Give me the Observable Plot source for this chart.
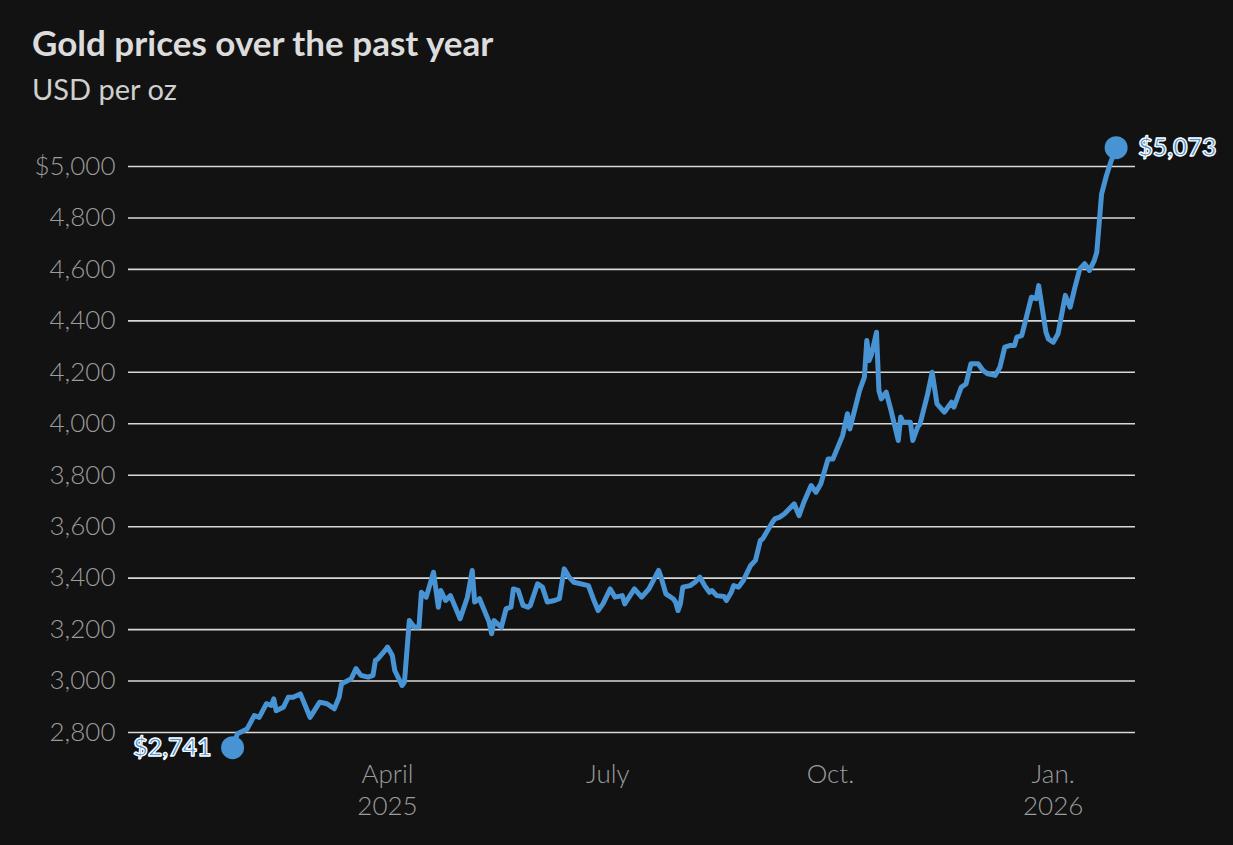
<!DOCTYPE html>
<html>
<head>
<meta charset="utf-8">
<script src="https://cdn.jsdelivr.net/npm/d3@7"></script>
<script src="https://cdn.jsdelivr.net/npm/@observablehq/plot@0.6"></script>
<style>
  html, body { margin: 0; padding: 0; background: #121212; }
  #wrap { position: relative; width: 1233px; height: 845px; background: #121212; overflow: hidden; }
  #head { position: relative; height: 120px; }
  #title { position: absolute; left: 32px; top: 20px; margin: 0; font-family: Lato, "Noto Sans", sans-serif; font-weight: 700; font-size: 35px; line-height: 44px; color: #dcdcdc; }
  #subtitle { position: absolute; left: 32px; top: 70px; margin: 0; font-family: Lato, "Noto Sans", sans-serif; font-weight: 400; font-size: 29px; line-height: 38px; color: #cfcfcf; }
  #chart svg { display: block; }
</style>
</head>
<body>
<div id="wrap">
  <div id="head">
    <div id="title">Gold prices over the past year</div>
    <div id="subtitle">USD per oz</div>
  </div>
  <div id="chart"></div>
</div>
<script>
const dates = [
  "2025-01-27","2025-01-29","2025-02-02","2025-02-05","2025-02-07","2025-02-10","2025-02-12","2025-02-13","2025-02-14","2025-02-17",
  "2025-02-19","2025-02-21","2025-02-24","2025-02-26","2025-02-28","2025-03-04","2025-03-07","2025-03-10","2025-03-12","2025-03-13",
  "2025-03-17","2025-03-19","2025-03-21","2025-03-24","2025-03-26","2025-03-27","2025-03-28","2025-03-31","2025-04-01","2025-04-03",
  "2025-04-04","2025-04-07","2025-04-08","2025-04-10","2025-04-12","2025-04-14","2025-04-15","2025-04-17","2025-04-20","2025-04-22",
  "2025-04-23","2025-04-25","2025-04-27","2025-05-01","2025-05-04","2025-05-06","2025-05-07","2025-05-09","2025-05-13","2025-05-14",
  "2025-05-15","2025-05-18","2025-05-20","2025-05-22","2025-05-23","2025-05-25","2025-05-27","2025-05-29","2025-05-30","2025-06-02",
  "2025-06-04","2025-06-06","2025-06-09","2025-06-11","2025-06-13","2025-06-15","2025-06-17","2025-06-23","2025-06-25","2025-06-27",
  "2025-06-29","2025-07-02","2025-07-04","2025-07-07","2025-07-08","2025-07-12","2025-07-15","2025-07-18","2025-07-22","2025-07-23",
  "2025-07-25","2025-07-28","2025-07-29","2025-07-30","2025-07-31","2025-08-01","2025-08-04","2025-08-06","2025-08-08","2025-08-10",
  "2025-08-12","2025-08-13","2025-08-15","2025-08-18","2025-08-19","2025-08-21","2025-08-22","2025-08-24","2025-08-26","2025-08-29",
  "2025-08-31","2025-09-02","2025-09-03","2025-09-05","2025-09-07","2025-09-08","2025-09-10","2025-09-12","2025-09-16","2025-09-18",
  "2025-09-20","2025-09-23","2025-09-25","2025-09-27","2025-09-30","2025-10-02","2025-10-06","2025-10-08","2025-10-09","2025-10-13",
  "2025-10-15","2025-10-16","2025-10-17","2025-10-18","2025-10-20","2025-10-21","2025-10-22","2025-10-24","2025-10-26","2025-10-29",
  "2025-10-30","2025-10-31","2025-11-03","2025-11-04","2025-11-06","2025-11-07","2025-11-10","2025-11-12","2025-11-14","2025-11-17",
  "2025-11-20","2025-11-21","2025-11-24","2025-11-26","2025-11-28","2025-12-01","2025-12-03","2025-12-05","2025-12-08","2025-12-10",
  "2025-12-12","2025-12-14","2025-12-16","2025-12-17","2025-12-19","2025-12-23","2025-12-25","2025-12-26","2025-12-29","2025-12-30",
  "2026-01-01","2026-01-03","2026-01-06","2026-01-08","2026-01-10","2026-01-12","2026-01-14","2026-01-16","2026-01-18","2026-01-19",
  "2026-01-21","2026-01-23","2026-01-25","2026-01-27"
];
const prices = [
  2741,2795,2814,2866,2859,2912,2905,2931,2885,2898,
  2937,2937,2950,2905,2859,2918,2912,2892,2937,2989,
  3009,3048,3022,3015,3022,3080,3086,3119,3132,3099,
  3041,2983,2996,3235,3210,3210,3345,3326,3423,3287,
  3352,3313,3332,3242,3326,3430,3307,3320,3229,3184,
  3235,3209,3281,3287,3358,3352,3294,3287,3294,3378,
  3365,3307,3313,3320,3436,3404,3384,3371,3320,3274,
  3300,3358,3326,3332,3300,3358,3326,3358,3430,3404,
  3339,3320,3307,3274,3301,3365,3371,3384,3404,3371,
  3345,3352,3332,3329,3313,3345,3371,3365,3391,3449,
  3469,3546,3553,3585,3617,3630,3637,3650,3689,3643,
  3695,3760,3734,3767,3863,3863,3954,4039,3980,4129,
  4181,4324,4246,4272,4356,4129,4097,4123,4052,3935,
  4026,4006,4006,3935,3987,4000,4110,4200,4077,4045,
  4084,4065,4142,4155,4233,4233,4207,4194,4188,4220,
  4298,4304,4304,4337,4343,4492,4486,4537,4356,4330,
  4317,4350,4499,4453,4531,4602,4622,4596,4635,4667,
  4894,4965,5023,5073
];
const yTicks = [2800,3000,3200,3400,3600,3800,4000,4200,4400,4600,4800,5000];
const xTickDates = ["2025-04-01","2025-07-01","2025-10-01","2026-01-01"];
const xTickLabels = ["April\n2025","July","Oct.","Jan.\n2026"];
const xDomain = ["2024-12-15","2026-02-04"];

const data = dates.map((d, i) => ({date: new Date(d + "T00:00:00Z"), price: prices[i]}));
const first = [data[0]];
const last = [data[data.length - 1]];
const blue = "#4893d3";
const tickDates = xTickDates.map(d => new Date(d + "T00:00:00Z"));
const labelFor = new Map(tickDates.map((d, i) => [+d, xTickLabels[i]]));
const fmt = d3.format(",");
const labelOpts = {
  x: "date", y: "price", text: d => "$" + fmt(d.price),
  fill: blue, stroke: "white", strokeWidth: 1.3, paintOrder: "normal",
  fontSize: 25, fontWeight: 700
};

const chart = Plot.plot({
  width: 1233,
  height: 725,
  marginLeft: 128,
  marginRight: 98,
  marginTop: 46,
  marginBottom: 113,
  style: {background: "transparent", fontFamily: "Lato, 'Noto Sans', sans-serif", overflow: "visible"},
  x: {type: "utc", domain: xDomain.map(d => new Date(d + "T00:00:00Z"))},
  y: {domain: [2800, 5000]},
  marks: [
    Plot.ruleY(yTicks, {stroke: "#d8d8d8", strokeWidth: 1.6}),
    Plot.axisY({
      ticks: yTicks, tickSize: 0, tickPadding: 13, label: null,
      tickFormat: d => d === 5000 ? "$" + fmt(d) : fmt(d),
      fontSize: 26, color: "#9c9c9c", fontWeight: 300
    }),
    Plot.axisX({
      ticks: tickDates, tickSize: 0, tickPadding: 28, label: null,
      tickFormat: d => labelFor.get(+d) ?? "",
      fontSize: 26, color: "#9c9c9c", lineHeight: 1.23, fontWeight: 300
    }),
    Plot.line(data, {x: "date", y: "price", stroke: blue, strokeWidth: 5, strokeLinejoin: "round", strokeLinecap: "round"}),
    Plot.dot(first, {x: "date", y: "price", r: 11.5, fill: blue, stroke: "none"}),
    Plot.dot(last, {x: "date", y: "price", r: 11.5, fill: blue, stroke: "none"}),
    Plot.text(first, {...labelOpts, textAnchor: "end", dx: -21}),
    Plot.text(last, {...labelOpts, textAnchor: "start", dx: 22})
  ]
});
document.getElementById("chart").appendChild(chart);
</script>
</body>
</html>
